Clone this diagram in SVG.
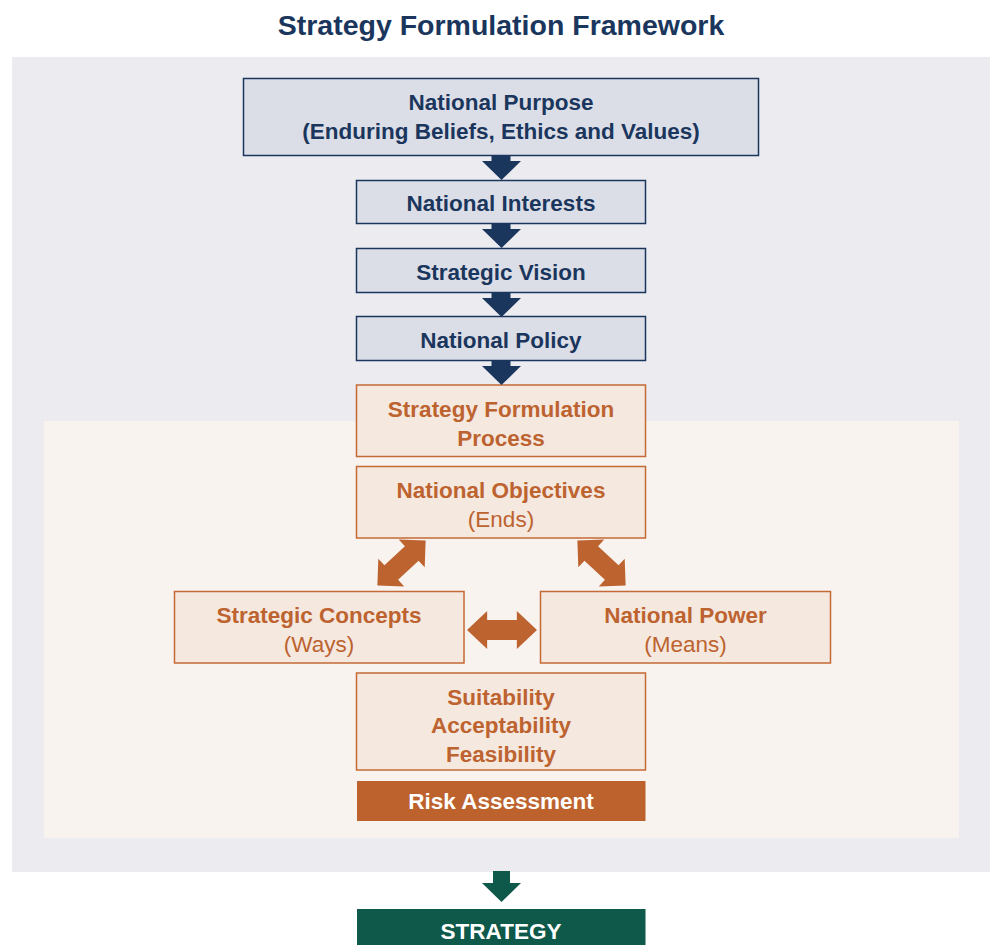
<svg xmlns="http://www.w3.org/2000/svg" width="992" height="945" viewBox="0 0 992 945">
<defs>
<style>
.t{font-family:"Liberation Sans",Arial,sans-serif;text-anchor:middle}
.b{font-weight:bold}
.nav{fill:#1b365d}
.org{fill:#bd6330}
.wht{fill:#ffffff}
.nbox{fill:#dcdee7;stroke:#1b365d;stroke-width:1.5}
.obox{fill:#f5e8df;stroke:#c46a36;stroke-width:1.5}
.arrN{fill:#1b365d}
.arrO{fill:#bd6330}
.arrG{fill:#0f594a}
</style>
<path id="dbl" d="M-33,0 L-14,-19 L-14,-10 L14,-10 L14,-19 L33,0 L14,19 L14,10 L-14,10 L-14,19 Z"/>
</defs>
<rect width="992" height="945" fill="#ffffff"/>
<text class="t b nav" x="501" y="35" font-size="28.5">Strategy Formulation Framework</text>
<rect x="12" y="57" width="978" height="815" fill="#ebebf0"/>
<rect x="44" y="421" width="915" height="417" fill="#f8f3ef"/>

<g id="national-purpose">
<rect class="nbox" x="243.5" y="78.5" width="515" height="77"/>
<text class="t b nav" x="501" y="110" font-size="22.5">National Purpose</text>
<text class="t b nav" x="501" y="138.5" font-size="22.5">(Enduring Beliefs, Ethics and Values)</text>
</g>
<g id="national-interests">
<rect class="nbox" x="356.5" y="180.5" width="289" height="43"/>
<text class="t b nav" x="501" y="211" font-size="22.5">National Interests</text>
</g>
<g id="strategic-vision">
<rect class="nbox" x="356.5" y="248.5" width="289" height="44"/>
<text class="t b nav" x="501" y="280" font-size="22.5">Strategic Vision</text>
</g>
<g id="national-policy">
<rect class="nbox" x="356.5" y="316.5" width="289" height="44"/>
<text class="t b nav" x="501" y="347.5" font-size="22.5">National Policy</text>
</g>
<g id="strategy-formulation-process">
<rect class="obox" x="356.5" y="385" width="289" height="71.5"/>
<text class="t b org" x="501" y="416.5" font-size="22.5">Strategy Formulation</text>
<text class="t b org" x="501" y="445.5" font-size="22.5">Process</text>
</g>
<g id="national-objectives">
<rect class="obox" x="356.5" y="466.5" width="289" height="71.5"/>
<text class="t b org" x="501" y="497.5" font-size="22.5">National Objectives</text>
<text class="t org" x="501" y="526.5" font-size="22.5">(Ends)</text>
</g>
<g id="strategic-concepts">
<rect class="obox" x="174.5" y="591.5" width="289.5" height="71.5"/>
<text class="t b org" x="319" y="622.5" font-size="22.5">Strategic Concepts</text>
<text class="t org" x="319" y="651.5" font-size="22.5">(Ways)</text>
</g>
<g id="national-power">
<rect class="obox" x="540.5" y="591.5" width="290" height="71.5"/>
<text class="t b org" x="685.5" y="622.5" font-size="22.5">National Power</text>
<text class="t org" x="685.5" y="651.5" font-size="22.5">(Means)</text>
</g>
<g id="suitability">
<rect class="obox" x="356.5" y="673" width="289" height="97"/>
<text class="t b org" x="501" y="705" font-size="22.5">Suitability</text>
<text class="t b org" x="501" y="733" font-size="22.5">Acceptability</text>
<text class="t b org" x="501" y="761.5" font-size="22.5">Feasibility</text>
</g>
<g id="risk-assessment">
<rect x="357" y="781" width="288.5" height="40" fill="#bd622d"/>
<text class="t b wht" x="501" y="809" font-size="22.5">Risk Assessment</text>
</g>
<g id="strategy">
<rect x="357" y="909" width="288.5" height="36" fill="#0f594a"/>
<text class="t b wht" x="501" y="938.5" font-size="22.5">STRATEGY</text>
</g>

<g id="connectors">
<polygon class="arrN" points="491.5,156 510.5,156 510.5,161 521,161 501.5,180 482,161 491.5,161"/>
<polygon class="arrN" points="491.5,224 510.5,224 510.5,229 521,229 501.5,248 482,229 491.5,229"/>
<polygon class="arrN" points="491.5,293 510.5,293 510.5,298 521,298 501.5,317 482,298 491.5,298"/>
<polygon class="arrN" points="491.5,361 510.5,361 510.5,366 521,366 501.5,385 482,366 491.5,366"/>
<use href="#dbl" class="arrO" transform="translate(401.5,563) rotate(-43)"/>
<use href="#dbl" class="arrO" transform="translate(601.5,563) rotate(43)"/>
<use href="#dbl" class="arrO" transform="translate(502,630) scale(1.06,1)"/>
<polygon class="arrG" points="493,871 510,871 510,883 521,883 501.5,902 482,883 493,883"/>
</g>
</svg>
